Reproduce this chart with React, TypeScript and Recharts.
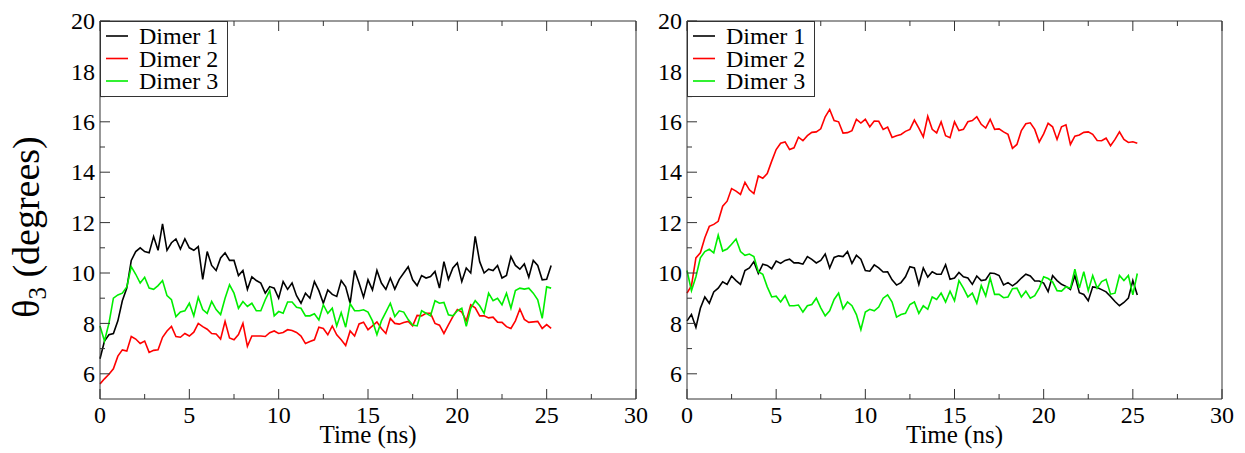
import { LineChart, Line, XAxis, YAxis, Legend, Label } from "recharts";

const FONT = '"Liberation Serif", "Times New Roman", serif';
const AXIS = "#333";

// sampling grid of the trajectories (ns)
const times = Array.from({ length: 102 }, (_, i) => i * 0.25);

const xTicks = [0, 2.5, 5, 7.5, 10, 12.5, 15, 17.5, 20, 22.5, 25, 27.5, 30];
const yTicks = [6, 7, 8, 9, 10, 11, 12, 13, 14, 15, 16, 17, 18, 19, 20];
const seriesNames = ["Dimer 1", "Dimer 2", "Dimer 3"];
const seriesColors = ["#000000", "#ff0000", "#00ee00"];

// left panel
const leftDimer1 = [
  6.6, 7.3, 7.55, 7.6, 8.1, 8.9, 9.4, 10.5,
  10.85, 11.0, 10.85, 10.8, 11.45, 10.9, 11.95, 10.9,
  11.2, 11.35, 10.95, 11.35, 11.0, 10.9, 11.05, 9.75,
  10.85, 10.3, 10.1, 10.6, 10.8, 10.5, 10.5, 9.9,
  10.1, 9.35, 9.85, 9.7, 9.6, 9.2, 9.46, 9.4,
  9.0, 9.66, 9.35, 9.6, 9.1, 8.8, 9.2, 9.0,
  9.66, 9.3, 8.8, 9.33, 9.15, 9.07, 9.7, 9.45,
  8.8, 10.1, 9.6, 9.04, 9.73, 9.33, 10.1, 9.6,
  9.35, 9.8, 9.36, 9.75, 10.0, 10.25, 9.73, 9.5,
  9.9, 9.8, 9.86, 10.06, 9.4, 10.45, 9.75, 10.2,
  10.4, 9.66, 10.2, 10.0, 11.45, 10.45, 10.0, 10.15,
  10.1, 10.3, 9.8, 9.9, 10.65, 10.3, 10.15, 10.36,
  9.83, 10.5, 10.3, 9.73, 9.75, 10.3,
];
const leftDimer2 = [
  5.6, 5.8, 5.98, 6.2, 6.7, 6.95, 6.9, 7.48,
  7.38, 7.2, 7.3, 6.85, 6.93, 6.95, 7.45, 7.7,
  7.88, 7.48, 7.45, 7.6, 7.5, 7.65, 8.0, 7.87,
  7.77, 7.6, 7.58, 7.38, 8.08, 7.42, 7.35, 7.56,
  8.0, 7.09, 7.5, 7.5, 7.5, 7.48, 7.63, 7.7,
  7.6, 7.64, 7.75, 7.72, 7.64, 7.5, 7.2, 7.28,
  7.35, 7.85, 7.8, 7.55, 7.9, 7.55, 7.35, 7.12,
  7.7, 7.5, 7.98, 8.05, 7.75, 7.9, 8.06, 7.8,
  7.6, 8.2, 8.0, 7.97, 8.04, 8.08, 7.9, 8.32,
  8.3, 8.4, 8.4, 8.0, 7.93, 7.6, 7.94, 8.27,
  8.55, 8.45, 8.1, 8.74, 8.62, 8.3, 8.3, 8.22,
  8.25, 8.05, 8.04, 7.87, 7.8, 8.1, 8.57, 8.16,
  8.04, 8.06, 8.08, 7.8, 7.95, 7.8,
];
const leftDimer3 = [
  7.9, 7.3, 8.0, 9.0, 9.13, 9.2, 9.45, 10.25,
  9.95, 9.6, 9.83, 9.4, 9.35, 9.5, 9.7, 9.1,
  8.94, 8.27, 8.45, 8.5, 8.8, 8.3, 9.04, 8.55,
  8.4, 8.87, 8.55, 8.35, 9.0, 9.53, 9.2, 8.6,
  8.87, 8.67, 8.8, 8.5, 8.5, 8.94, 9.3, 8.3,
  8.47, 8.4, 8.85, 8.85, 8.64, 8.6, 8.3, 8.3,
  8.38, 8.14, 8.74, 8.4, 8.6, 7.9, 8.43, 7.85,
  8.78, 8.5, 8.5, 8.54, 8.45, 8.1, 7.55, 8.1,
  8.45, 8.8, 8.27, 8.5, 8.45, 8.15, 7.94, 7.9,
  8.5, 8.4, 8.3, 8.9, 8.8, 8.83, 8.34, 8.3,
  8.5, 8.6, 7.88, 8.6, 8.9, 8.7, 8.4, 9.2,
  8.9, 9.0, 8.74, 9.2, 8.6, 9.3, 9.4, 9.36,
  9.4, 9.2, 8.94, 8.2, 9.45, 9.4,
];

// right panel
const rightDimer1 = [
  8.1, 8.35, 7.84, 8.6, 9.05, 8.8, 9.25, 9.4,
  9.65, 9.55, 9.88, 9.7, 9.55, 10.1, 10.2, 10.45,
  9.98, 10.35, 10.3, 10.17, 10.47, 10.38, 10.5, 10.55,
  10.4, 10.4, 10.35, 10.65, 10.54, 10.4, 10.5, 10.75,
  10.2, 10.62, 10.68, 10.65, 10.85, 10.38, 10.7, 10.55,
  10.1, 10.07, 10.32, 10.2, 10.04, 10.05, 9.73, 9.52,
  9.62, 9.85, 10.25, 10.2, 9.55, 10.2, 9.84, 10.05,
  9.95, 9.95, 10.33, 9.75, 9.8, 10.02, 9.85, 9.8,
  9.55, 9.88, 9.7, 9.73, 10.0, 9.98, 9.9, 9.53,
  9.62, 9.49, 9.62, 9.8, 9.95, 9.88, 9.68, 9.68,
  9.6, 9.26, 9.9, 9.7, 9.55, 9.47, 9.35, 9.9,
  9.22, 9.15, 8.9, 9.45, 9.42, 9.34, 9.25, 9.07,
  8.87, 8.7, 8.83, 9.0, 9.7, 9.13,
];
const rightDimer2 = [
  9.2, 9.5, 10.6, 10.8, 11.4, 11.85, 11.93, 12.05,
  12.65, 12.85, 13.35, 13.25, 13.12, 13.6, 13.3, 13.15,
  13.85, 13.76, 13.95, 14.44, 14.9, 15.15, 15.2, 14.9,
  14.97, 15.39, 15.25, 15.45, 15.58, 15.6, 15.72, 16.2,
  16.49, 16.05, 16.0, 15.55, 15.57, 15.65, 16.1, 15.95,
  16.1, 15.8, 16.03, 16.02, 15.7, 15.79, 15.38, 15.45,
  15.5, 15.62, 15.7, 16.07, 15.75, 15.4, 16.22, 15.7,
  15.56, 16.0, 15.45, 15.37, 16.0, 15.65, 15.7, 16.0,
  16.05, 16.2, 15.9, 15.75, 16.1, 15.7, 15.72, 15.6,
  15.5, 14.95, 15.1, 15.65, 15.92, 15.96, 15.7, 15.2,
  15.52, 15.94, 15.8, 15.3, 15.8, 15.88, 15.1, 15.43,
  15.48, 15.58, 15.6, 15.5, 15.26, 15.25, 15.35, 15.05,
  15.3, 15.6, 15.3, 15.18, 15.21, 15.15,
];
const rightDimer3 = [
  10.1, 9.3, 9.85, 10.6, 10.85, 10.94, 10.8, 11.5,
  10.87, 10.95, 11.14, 11.35, 10.85, 10.7, 10.75, 10.65,
  10.05, 9.95, 9.45, 9.05, 9.08, 8.85, 9.1, 8.7,
  8.7, 8.73, 8.45, 8.7, 8.75, 9.0, 8.62, 8.3,
  8.5, 8.95, 9.2, 8.58, 8.85, 8.7, 8.35, 7.75,
  8.45, 8.56, 8.5, 8.65, 9.0, 9.13, 8.85, 8.25,
  8.35, 8.4, 8.75, 8.85, 8.4, 8.7, 8.56, 9.05,
  8.95, 9.2, 8.85, 9.28, 8.9, 9.7, 9.4, 9.05,
  9.2, 8.8, 9.5, 9.09, 9.8, 9.15, 9.15, 9.02,
  9.05, 9.38, 9.4, 9.05, 9.28, 9.0, 9.1, 9.4,
  9.85, 9.78, 9.65, 9.3, 9.28, 9.45, 9.4, 10.15,
  9.4, 10.05, 9.3, 9.9, 9.4, 9.66, 9.75, 9.16,
  9.2, 9.9, 9.7, 9.9, 9.13, 9.98,
];

const toRows = (a: number[], b: number[], c: number[]) =>
  times.map((t, i) => ({ t, d1: a[i], d2: b[i], d3: c[i] }));

const leftData = toRows(leftDimer1, leftDimer2, leftDimer3);
const rightData = toRows(rightDimer1, rightDimer2, rightDimer3);

const isMajorX = (v: number) => v % 5 === 0;
const isMajorY = (v: number) => v % 2 === 0;

function BottomTick({ x, y, payload }: any) {
  const major = isMajorX(payload.value);
  return (
    <g>
      <line x1={x} x2={x} y1={y} y2={y - (major ? 10 : 5)} stroke={AXIS} />
      {major && (
        <text x={x} y={y + 24} textAnchor="middle" fontSize={24} fontFamily={FONT} fill="#000">
          {payload.value}
        </text>
      )}
    </g>
  );
}

function TopTick({ x, y, payload }: any) {
  const major = isMajorX(payload.value);
  return <line x1={x} x2={x} y1={y} y2={y + (major ? 10 : 5)} stroke={AXIS} />;
}

function LeftTick({ x, y, payload }: any) {
  const major = isMajorY(payload.value);
  return (
    <g>
      <line x1={x} x2={x + (major ? 10 : 5)} y1={y} y2={y} stroke={AXIS} />
      {major && (
        <text x={x - 5} y={y} dy="0.34em" textAnchor="end" fontSize={24} fontFamily={FONT} fill="#000">
          {payload.value}
        </text>
      )}
    </g>
  );
}

function RightTick({ x, y, payload }: any) {
  const major = isMajorY(payload.value);
  return <line x1={x} x2={x - (major ? 10 : 5)} y1={y} y2={y} stroke={AXIS} />;
}

// legend drawn as svg so it uses the same serif face as the axes
function LegendBox({ payload }: any) {
  const items = payload || [];
  return (
    <svg width={128} height={76} style={{ display: "block" }}>
      <rect x={0.5} y={0.5} width={127} height={75} fill="#fff" stroke={AXIS} />
      {items.map((e: any, i: number) => {
        const cy = 15 + i * 22.5;
        return (
          <g key={e.value}>
            <line x1={6} x2={28} y1={cy} y2={cy} stroke={e.color} strokeWidth={1.6} />
            <text x={39} y={cy} dy="0.34em" fontSize={24} fontFamily={FONT} fill="#000">
              {e.value}
            </text>
          </g>
        );
      })}
    </svg>
  );
}

interface PanelProps {
  data: { t: number; d1: number; d2: number; d3: number }[];
  width: number;
  axisWidth: number;
  marginRight: number;
  showYLabel: boolean;
}

function Panel({ data, width, axisWidth, marginRight, showYLabel }: PanelProps) {
  return (
    <LineChart width={width} height={453} data={data} margin={{ top: 20, right: marginRight, bottom: 0, left: 0 }}>
      <XAxis
        xAxisId="bottom"
        dataKey="t"
        type="number"
        domain={[0, 30]}
        ticks={xTicks}
        interval={0}
        height={54}
        tickSize={0}
        tickMargin={0}
        tickLine={false}
        axisLine={{ stroke: AXIS }}
        tick={(p: any) => <BottomTick {...p} />}
      >
        <Label
          content={({ viewBox }: any) => (
            <text
              x={viewBox.x + viewBox.width / 2}
              y={viewBox.y + 44}
              textAnchor="middle"
              fontSize={25}
              fontFamily={FONT}
              fill="#000"
            >
              Time (ns)
            </text>
          )}
        />
      </XAxis>
      <XAxis
        xAxisId="top"
        orientation="top"
        dataKey="t"
        type="number"
        domain={[0, 30]}
        ticks={xTicks}
        interval={0}
        height={1}
        tickSize={0}
        tickMargin={0}
        tickLine={false}
        axisLine={{ stroke: AXIS }}
        tick={(p: any) => <TopTick {...p} />}
      />
      <YAxis
        yAxisId="left"
        type="number"
        domain={[5, 20]}
        ticks={yTicks}
        interval={0}
        width={axisWidth}
        tickSize={0}
        tickMargin={0}
        tickLine={false}
        axisLine={{ stroke: AXIS }}
        tick={(p: any) => <LeftTick {...p} />}
      >
        {showYLabel && (
          <Label
            content={({ viewBox }: any) => (
              <text
                transform={`translate(${viewBox.x + 39}, ${viewBox.y + viewBox.height / 2 + 17}) rotate(-90)`}
                textAnchor="middle"
                fontSize={38}
                fontFamily={FONT}
                fill="#000"
              >
                θ<tspan fontSize={25} dy={7}>3</tspan>
                <tspan dy={-7}> (degrees)</tspan>
              </text>
            )}
          />
        )}
      </YAxis>
      <YAxis
        yAxisId="right"
        orientation="right"
        type="number"
        domain={[5, 20]}
        ticks={yTicks}
        interval={0}
        width={1}
        tickSize={0}
        tickMargin={0}
        tickLine={false}
        axisLine={{ stroke: AXIS }}
        tick={(p: any) => <RightTick {...p} />}
      />
      <Legend
        layout="vertical"
        align="center"
        verticalAlign="middle"
        wrapperStyle={{ top: 21, left: axisWidth, width: 128, height: 76 }}
        content={(p: any) => <LegendBox {...p} />}
      />
      {["d1", "d2", "d3"].map((key, i) => (
        <Line
          key={key}
          xAxisId="bottom"
          yAxisId="left"
          type="linear"
          dataKey={key}
          name={seriesNames[i]}
          stroke={seriesColors[i]}
          strokeWidth={1.6}
          dot={false}
          activeDot={false}
          isAnimationActive={false}
        />
      ))}
    </LineChart>
  );
}

export default function App() {
  return (
    <div style={{ position: "absolute", left: 0, top: 0, width: 1245, height: 453, background: "#fff", overflow: "hidden" }}>
      <div style={{ position: "absolute", left: 0, top: 0 }}>
        <Panel data={leftData} width={660} axisWidth={100} marginRight={23} showYLabel />
      </div>
      <div style={{ position: "absolute", left: 600, top: 0 }}>
        <Panel data={rightData} width={645} axisWidth={87} marginRight={22} showYLabel={false} />
      </div>
    </div>
  );
}
